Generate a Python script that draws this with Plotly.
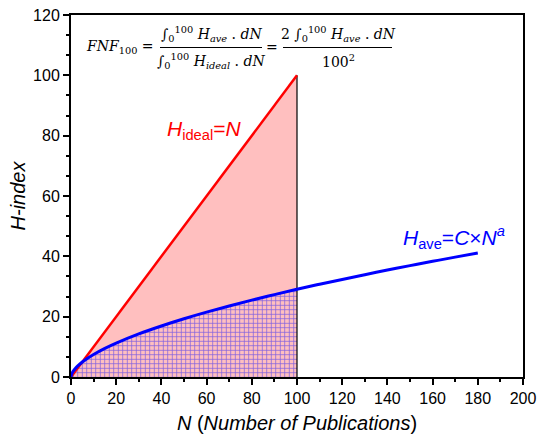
import plotly.graph_objects as go

# ---- data ----
N_ave = [0, 0.2, 0.5, 1, 2, 3, 5, 7, 10, 15, 20, 30, 40, 50, 60, 70, 80, 90, 100,
         110, 120, 130, 140, 150, 160, 170, 180]
H_ave = [0, 0.74, 1.28, 1.92, 2.89, 3.67, 4.96, 6.05, 7.47, 9.49, 11.24, 14.29,
         16.92, 19.31, 21.50, 23.55, 25.48, 27.31, 29.07, 30.75, 32.35, 33.92,
         35.44, 36.91, 38.34, 39.74, 41.10]
N_ideal = [0, 100]
H_ideal = [0, 100]
N_limit = 100

x_ticks = [0, 20, 40, 60, 80, 100, 120, 140, 160, 180, 200]
y_ticks = [0, 20, 40, 60, 80, 100, 120]

PINK = "#ffbfbf"
FONT = "Liberation Sans, Arial, sans-serif"
SERIF = "DejaVu Serif, serif"

N_fill = [n for n in N_ave if n <= N_limit]
H_fill = [h for n, h in zip(N_ave, H_ave) if n <= N_limit]

fig = go.Figure()
fig.add_trace(go.Scatter(x=N_ideal, y=H_ideal, mode="none", fill="tozeroy",
                         fillcolor=PINK, showlegend=False, hoverinfo="skip"))
fig.add_trace(go.Scatter(x=N_fill, y=H_fill, mode="none", fill="tozeroy",
                         fillcolor=PINK,
                         fillpattern=dict(shape="+", fgcolor="#0000ff", bgcolor=PINK,
                                          size=4.5, solidity=0.3),
                         showlegend=False, hoverinfo="skip"))
fig.add_trace(go.Scatter(x=[N_limit, N_limit], y=[0, H_ideal[-1]], mode="lines",
                         line=dict(color="black", width=1.2), showlegend=False))
fig.add_trace(go.Scatter(x=N_ideal, y=H_ideal, mode="lines",
                         line=dict(color="#ff0000", width=2.5), showlegend=False))
fig.add_trace(go.Scatter(x=N_ave, y=H_ave, mode="lines",
                         line=dict(color="#0000ff", width=3, shape="spline"),
                         showlegend=False))

L, R, T, B = 71, 19, 15, 58
W, H = 542, 435
pw, ph = W - L - R, H - T - B


def px(xp):
    return (xp - L) / pw


def py(yp):
    return (H - B - yp) / ph


annos = []


def txt(x, y, text, size=14, color="black", family=SERIF, xanchor="center"):
    annos.append(dict(x=px(x), y=py(y), xref="paper", yref="paper", text=text,
                      showarrow=False, xanchor=xanchor, yanchor="middle",
                      font=dict(size=size, color=color, family=family)))


integ = "∫<sub>0</sub><sup>100</sup>"
txt(84, 47, "<i>FNF</i><sub>100</sub> =", xanchor="left")
txt(211, 34, integ + " <i>H<sub>ave</sub></i> . <i>dN</i>")
txt(211, 61, integ + " <i>H<sub>ideal</sub></i> . <i>dN</i>")
txt(272, 47, "=")
txt(338, 34, "2 " + integ + " <i>H<sub>ave</sub></i> . <i>dN</i>")
txt(338, 61, "100<sup>2</sup>")

txt(165, 130, "<i>H</i><sub>ideal</sub>=<i>N</i>", size=21, color="#ff0000",
    family=FONT, xanchor="left")
txt(401, 237, "<i>H</i><sub>ave</sub>=<i>C</i>×<i>N</i><sup><i>a</i></sup>", size=21,
    color="#0000ff", family=FONT, xanchor="left")

shapes = [
    dict(type="line", xref="paper", yref="paper", x0=px(160), x1=px(262),
         y0=py(47.5), y1=py(47.5), line=dict(color="black", width=1)),
    dict(type="line", xref="paper", yref="paper", x0=px(283), x1=px(392),
         y0=py(47.5), y1=py(47.5), line=dict(color="black", width=1)),
]

fig.update_layout(
    width=W, height=H,
    margin=dict(l=L, r=R, t=T, b=B, autoexpand=False),
    plot_bgcolor="white", paper_bgcolor="white",
    font=dict(family=FONT, size=16, color="black"),
    annotations=annos, shapes=shapes,
    xaxis=dict(range=[0, 200], tickvals=x_ticks, ticks="outside", ticklen=6,
               tickwidth=2, tickcolor="black", showline=True, linewidth=2,
               linecolor="black", mirror=True, showgrid=False, zeroline=False,
               automargin=False,
               minor=dict(dtick=10, ticks="outside", ticklen=3, tickwidth=2,
                          tickcolor="black"),
               title=dict(text="<i>N</i> (<i>Number of Publications</i>)",
                          font=dict(size=20), standoff=10),
               tickfont=dict(size=16)),
    yaxis=dict(range=[0, 120], tickvals=y_ticks, ticks="outside", ticklen=6,
               tickwidth=2, tickcolor="black", showline=True, linewidth=2,
               linecolor="black", mirror=True, showgrid=False, zeroline=False,
               automargin=False,
               minor=dict(dtick=20 / 3, ticks="outside", ticklen=3, tickwidth=2,
                          tickcolor="black"),
               title=dict(text="<i>H-index</i>", font=dict(size=20), standoff=2),
               tickfont=dict(size=16)),
)

fig.write_html("out.html")
